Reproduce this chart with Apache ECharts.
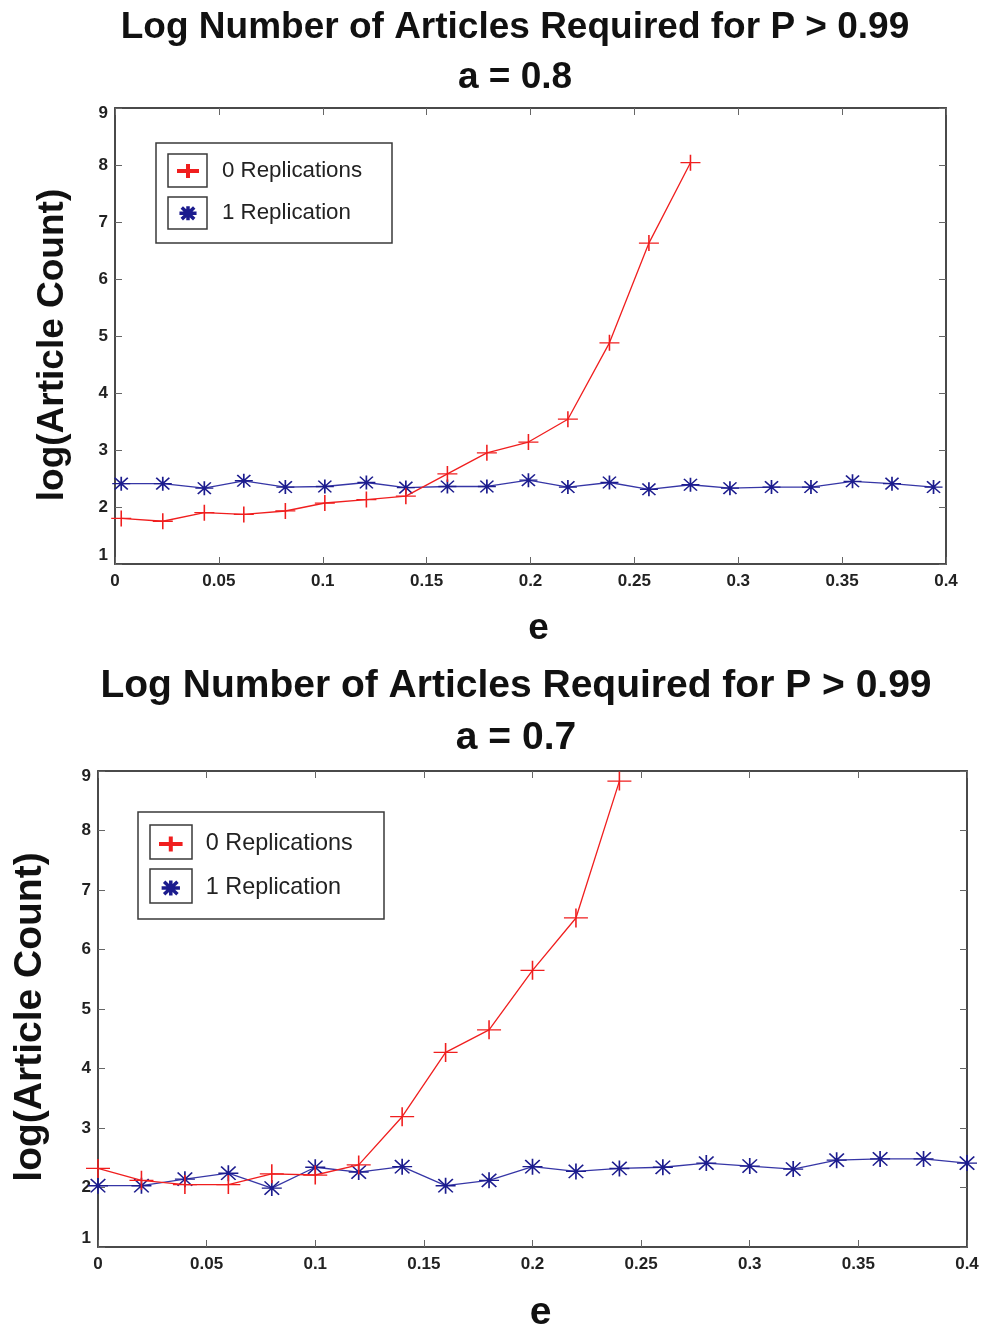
<!DOCTYPE html>
<html>
<head>
<meta charset="utf-8">
<script src="https://cdn.jsdelivr.net/npm/echarts@6/dist/echarts.min.js"></script>
<style>
  html, body { margin: 0; padding: 0; background: #fff; }
  #chart { width: 985px; height: 1328px; }
</style>
</head>
<body>
<div id="chart"></div>
<script>
// ---------- data ----------
const seriesNames = ['0 Replications', '1 Replication'];
const titleTop = 'Log Number of Articles Required for P > 0.99';
const subTop = 'a = 0.8';
const subBottom = 'a = 0.7';
const xName = 'e';
const yName = 'log(Article Count)';

// top panel (a = 0.8)
const eTop = [0.003, 0.023, 0.043, 0.062, 0.082, 0.101, 0.121, 0.140, 0.160, 0.179, 0.199,
              0.218, 0.238, 0.257, 0.277, 0.296, 0.316, 0.335, 0.355, 0.374, 0.394];
const redTop = [1.80, 1.75, 1.90, 1.87, 1.93, 2.07, 2.13, 2.19, 2.58, 2.95, 3.14, 3.54, 4.88, 6.63, 8.04];
const blueTop = [2.41, 2.41, 2.33, 2.46, 2.35, 2.36, 2.43, 2.34, 2.36, 2.36, 2.47,
                 2.35, 2.43, 2.31, 2.39, 2.33, 2.35, 2.35, 2.45, 2.41, 2.35];

// bottom panel (a = 0.7)
const eBottom = [0, 0.02, 0.04, 0.06, 0.08, 0.10, 0.12, 0.14, 0.16, 0.18, 0.20,
                 0.22, 0.24, 0.26, 0.28, 0.30, 0.32, 0.34, 0.36, 0.38, 0.40];
const redBottom = [2.32, 2.12, 2.05, 2.05, 2.23, 2.21, 2.38, 3.19, 4.27, 4.65, 5.65, 6.53, 8.83];
const blueBottom = [2.03, 2.03, 2.14, 2.24, 1.99, 2.34, 2.26, 2.35, 2.03, 2.12, 2.35,
                    2.27, 2.32, 2.34, 2.41, 2.36, 2.31, 2.46, 2.48, 2.48, 2.41];

const xMin = 0, xMax = 0.4, xStep = 0.05;
const yMin = 1, yMax = 9, yStep = 1;

// ---------- styling ----------
const FONT = 'Liberation Sans';
const RED = '#f01e1e';
const BLUE_LINE = '#3636a6';
const BLUE_MARK = '#1c1c8e';
const FRAME = '#4a4a4a';

const plusPath = 'path://M0,7 L22,7 M11,0 L11,14';
const starPath = 'path://M0,9 L22,9 M11,0 L11,18 M3,1.5 L19,16.5 M19,1.5 L3,16.5';

function pairs(xs, ys) { return ys.map((v, i) => [xs[i], v]); }

function axesFor(g, yNameGap, xNameGap, nameSize, namePad) {
  const tick = { show: true, inside: true, length: 7, lineStyle: { color: '#666', width: 1 } };
  const line = { show: true, onZero: false, lineStyle: { color: FRAME, width: 2 } };
  const lab = { fontFamily: FONT, fontWeight: 'bold', fontSize: 17, color: '#222' };
  return {
    x: [
      { gridIndex: g, type: 'value', min: xMin, max: xMax, interval: xStep, position: 'bottom',
        axisLine: line, axisTick: tick, splitLine: { show: false },
        axisLabel: Object.assign({ margin: 9 }, lab),
        name: xName, nameLocation: 'middle', nameGap: xNameGap,
        nameTextStyle: { fontFamily: FONT, fontWeight: 'bold', fontSize: nameSize, color: '#111',
                         padding: [0, 0, 0, 16] } },
      { gridIndex: g, type: 'value', min: xMin, max: xMax, interval: xStep, position: 'top',
        axisLine: line, axisTick: tick, splitLine: { show: false }, axisLabel: { show: false } }
    ],
    y: [
      { gridIndex: g, type: 'value', min: yMin, max: yMax, interval: yStep, position: 'left',
        axisLine: line, axisTick: tick, splitLine: { show: false },
        axisLabel: Object.assign({
          margin: 7,
          formatter: function (v) {
            if (v === yMax) return '{hi|' + v + '}';
            if (v === yMin) return '{lo|' + v + '}';
            return String(v);
          },
          rich: {
            hi: Object.assign({ padding: [10, 0, 0, 0] }, lab),
            lo: Object.assign({ padding: [0, 0, 17, 0] }, lab)
          }
        }, lab),
        name: yName, nameLocation: 'middle', nameGap: yNameGap, nameRotate: 90,
        nameTextStyle: { fontFamily: FONT, fontWeight: 'bold', fontSize: nameSize, color: '#111',
                         padding: [0, namePad, 0, 0] } },
      { gridIndex: g, type: 'value', min: yMin, max: yMax, interval: yStep, position: 'right',
        axisLine: line, axisTick: tick, splitLine: { show: false }, axisLabel: { show: false } }
    ]
  };
}

const a0 = axesFor(0, 44, 46, 37, 18);
const a1 = axesFor(1, 48, 47, 39, 16);

function redSeries(name, data, xi, yi, size) {
  return {
    name: name, type: 'line', xAxisIndex: xi, yAxisIndex: yi, data: data,
    symbol: plusPath, symbolSize: size, showAllSymbol: true, clip: false,
    lineStyle: { color: RED, width: 1.3 },
    itemStyle: { color: RED, borderColor: RED, borderWidth: 1.4 },
    emphasis: { disabled: true }, animation: false, z: 3
  };
}
function blueSeries(name, data, xi, yi, size) {
  return {
    name: name, type: 'line', xAxisIndex: xi, yAxisIndex: yi, data: data,
    symbol: starPath, symbolSize: size, showAllSymbol: true, clip: false,
    lineStyle: { color: BLUE_LINE, width: 1.3 },
    itemStyle: { color: BLUE_MARK, borderColor: BLUE_MARK, borderWidth: 1.5 },
    emphasis: { disabled: true }, animation: false, z: 2
  };
}

function legendFor(left, top, itemW, itemH, gap, fontSize) {
  return {
    orient: 'vertical', left: left, top: top, padding: 0,
    itemWidth: itemW, itemHeight: itemH, itemGap: gap,
    symbolKeepAspect: true, selectedMode: false,
    textStyle: { fontFamily: FONT, fontSize: fontSize, color: '#222', lineHeight: 24 },
    data: [
      { name: seriesNames[0], icon: plusPath,
        itemStyle: { color: RED, borderColor: RED, borderWidth: 4 } },
      { name: seriesNames[1], icon: starPath,
        itemStyle: { color: BLUE_MARK, borderColor: BLUE_MARK, borderWidth: 3.5 } }
    ]
  };
}

function box(x, y, w, h, lw, fill, z) {
  return { type: 'rect', shape: { x: x, y: y, width: w, height: h }, z: z || 0,
           style: { fill: fill || 'none', stroke: '#3a3a3a', lineWidth: lw } };
}

const chart = echarts.init(document.getElementById('chart'), null, { renderer: 'canvas' });

const option = {
  backgroundColor: '#fff',
  animation: false,
  title: [
    { text: titleTop + '\n' + subTop, left: 515, top: 3, padding: 0, textAlign: 'center',
      textStyle: { fontFamily: FONT, fontWeight: 'bold', fontSize: 37, lineHeight: 50, color: '#111' } },
    { text: titleTop + '\n' + subBottom, left: 516, top: 660, padding: 0, textAlign: 'center',
      textStyle: { fontFamily: FONT, fontWeight: 'bold', fontSize: 39, lineHeight: 52, color: '#111' } }
  ],
  grid: [
    { left: 115, top: 108, width: 831, height: 456, containLabel: false, outerBoundsMode: 'none' },
    { left: 98, top: 771, width: 869, height: 476, containLabel: false, outerBoundsMode: 'none' }
  ],
  xAxis: a0.x.concat(a1.x),
  yAxis: a0.y.concat(a1.y),
  legend: [
    legendFor(175, 159, 58, 14, 18.3, 22.3),
    legendFor(157, 832, 60, 15, 20, 23.4)
  ],
  graphic: [
    box(156, 143, 236, 100, 1.5, '#fff', 0),
    box(168, 154, 39, 33, 1.5, null, 10),
    box(168, 197, 39, 32, 1.5, null, 10),
    box(138, 812, 246, 107, 1.5, '#fff', 0),
    box(150, 825, 42, 34, 1.5, null, 10),
    box(150, 869, 42, 34, 1.5, null, 10)
  ],
  series: [
    redSeries(seriesNames[0], pairs(eTop, redTop), 0, 0, [20, 16]),
    blueSeries(seriesNames[1], pairs(eTop, blueTop), 0, 0, [18, 14]),
    redSeries(seriesNames[0], pairs(eBottom, redBottom), 2, 2, [24, 19]),
    blueSeries(seriesNames[1], pairs(eBottom, blueBottom), 2, 2, [20, 16])
  ]
};
chart.setOption(option);
</script>
</body>
</html>
